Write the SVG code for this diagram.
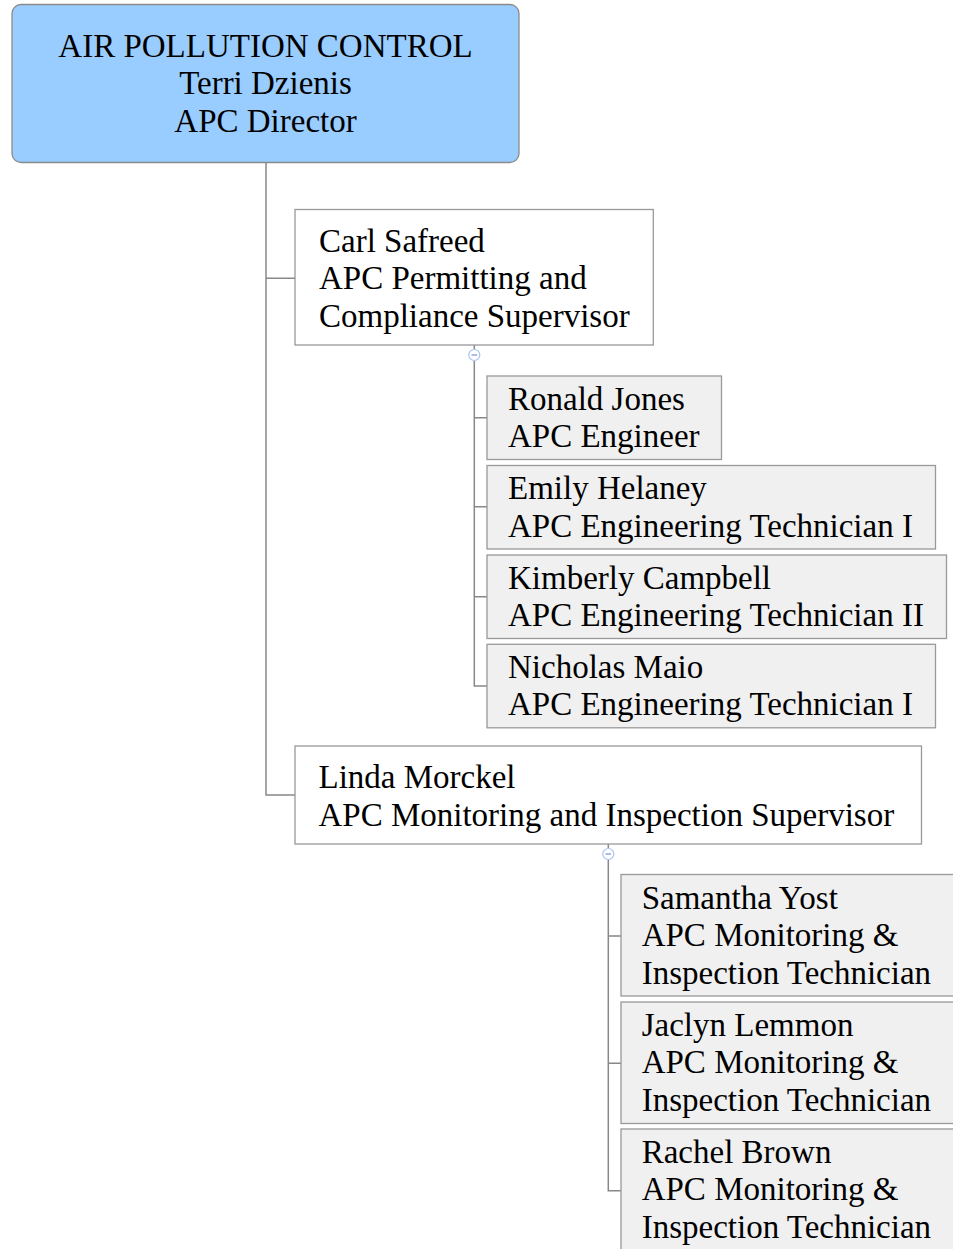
<svg xmlns="http://www.w3.org/2000/svg" width="953" height="1249" viewBox="0 0 953 1249">
<style>
.t{font-family:"Liberation Serif","Times New Roman",serif;font-size:33px;fill:#000}
.c{text-anchor:middle}
.root{fill:#99ccff;stroke:#8a8a8a;stroke-width:1.3}
.sup{fill:#ffffff;stroke:#999;stroke-width:1.3}
.emp{fill:#f0f0f0;stroke:#999;stroke-width:1.3}
.ln{fill:none;stroke:#888;stroke-width:1.5}
.tog{fill:#fff;stroke:#a9c2f0;stroke-width:1.2}
.tm{stroke:#8fa8e0;stroke-width:1.5}
</style>
<rect width="953" height="1249" fill="#fff"/>
<g id="connectors">
<path class="ln" d="M266,162.5 V795 H295 M266,278.3 H295"/>
<path class="ln" d="M474.3,345 V349 M474.3,361 V686 H487 M474.3,417.7 H487 M474.3,506.7 H487 M474.3,596.7 H487"/>
<path class="ln" d="M608.3,844 V848 M608.3,860 V1190.7 H621 M608.3,936 H621 M608.3,1063.3 H621"/>
<circle class="tog" cx="474.3" cy="355" r="5.5"/>
<line class="tm" x1="471.5" y1="355" x2="477.1" y2="355"/>
<circle class="tog" cx="608.3" cy="854" r="5.5"/>
<line class="tm" x1="605.5" y1="854" x2="611.1" y2="854"/>
</g>
<g id="n-root">
<rect class="root" x="12" y="4.5" width="507" height="158" rx="9"/>
<text class="t c" x="265.5" y="56.7">AIR POLLUTION CONTROL</text>
<text class="t c" x="265.5" y="94">Terri Dzienis</text>
<text class="t c" x="265.5" y="131.5">APC Director</text>
</g>
<g id="n-carl">
<rect class="sup" x="295" y="209.5" width="358.3" height="135.5"/>
<text class="t" x="319" y="251.7">Carl Safreed</text>
<text class="t" x="319" y="289.2">APC Permitting and</text>
<text class="t" x="319" y="326.7">Compliance Supervisor</text>
</g>
<g id="n-ronald">
<rect class="emp" x="487" y="376" width="234.5" height="83.5"/>
<text class="t" x="508" y="409.5">Ronald Jones</text>
<text class="t" x="508" y="447">APC Engineer</text>
</g>
<g id="n-emily">
<rect class="emp" x="487" y="465.5" width="448.5" height="83.5"/>
<text class="t" x="508" y="499.2">Emily Helaney</text>
<text class="t" x="508" y="536.7">APC Engineering Technician I</text>
</g>
<g id="n-kimberly">
<rect class="emp" x="487" y="555" width="459.5" height="83.5"/>
<text class="t" x="508" y="588.6">Kimberly Campbell</text>
<text class="t" x="508" y="626.1">APC Engineering Technician II</text>
</g>
<g id="n-nicholas">
<rect class="emp" x="487" y="644.3" width="448.5" height="83.5"/>
<text class="t" x="508" y="677.8">Nicholas Maio</text>
<text class="t" x="508" y="715.3">APC Engineering Technician I</text>
</g>
<g id="n-linda">
<rect class="sup" x="295" y="746" width="626.5" height="98"/>
<text class="t" x="318.5" y="788.3">Linda Morckel</text>
<text class="t" x="318.5" y="825.8">APC Monitoring and Inspection Supervisor</text>
</g>
<g id="n-samantha">
<rect class="emp" x="621" y="874.5" width="345" height="121.5"/>
<text class="t" x="641.7" y="908.5">Samantha Yost</text>
<text class="t" x="641.7" y="946">APC Monitoring &amp;</text>
<text class="t" x="641.7" y="983.5">Inspection Technician</text>
</g>
<g id="n-jaclyn">
<rect class="emp" x="621" y="1002" width="345" height="121.5"/>
<text class="t" x="641.7" y="1035.5">Jaclyn Lemmon</text>
<text class="t" x="641.7" y="1073">APC Monitoring &amp;</text>
<text class="t" x="641.7" y="1110.5">Inspection Technician</text>
</g>
<g id="n-rachel">
<rect class="emp" x="621" y="1129" width="345" height="140"/>
<text class="t" x="641.7" y="1162.5">Rachel Brown</text>
<text class="t" x="641.7" y="1200">APC Monitoring &amp;</text>
<text class="t" x="641.7" y="1237.5">Inspection Technician</text>
</g>
</svg>
